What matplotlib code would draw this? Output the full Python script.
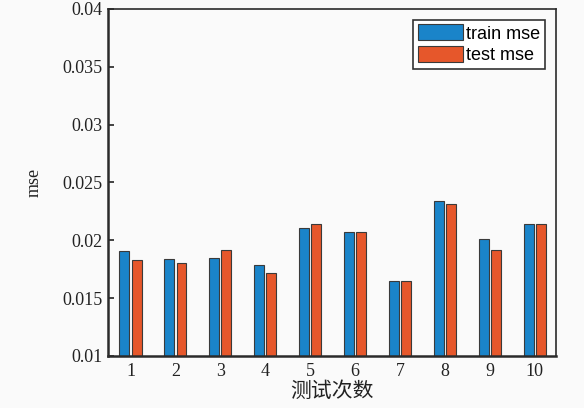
import numpy as np
import matplotlib.pyplot as plt
from matplotlib.ticker import FuncFormatter

# values
runs = [1, 2, 3, 4, 5, 6, 7, 8, 9, 10]
train_mse = [0.0191, 0.0184, 0.0185, 0.0179, 0.0211, 0.0207, 0.0165, 0.0234, 0.0201, 0.0214]
test_mse = [0.0183, 0.0180, 0.0192, 0.0172, 0.0214, 0.0207, 0.0165, 0.0231, 0.0192, 0.0214]
y_ticks = [0.01, 0.015, 0.02, 0.025, 0.03, 0.035, 0.04]

plt.rcParams['font.family'] = ['Liberation Serif', 'Noto Sans CJK SC']

fig = plt.figure(figsize=(5.84, 4.08), dpi=100, facecolor='#fafafa')
ax = fig.add_axes([0.185, 0.1275, 0.767, 0.8505])
ax.set_facecolor('#fafafa')

x = np.array(runs)
w = 0.22
ax.bar(x - 0.135, train_mse, width=w, color='#1a84c9', edgecolor='#3a3a3a',
       linewidth=0.8, label='train mse')
ax.bar(x + 0.135, test_mse, width=w, color='#e6572b', edgecolor='#3a3a3a',
       linewidth=0.8, label='test mse')

ax.set_xlim(0.5, 10.47)
ax.set_ylim(0.01, 0.04)
ax.set_xticks(runs)
ax.set_yticks(y_ticks)
ax.yaxis.set_major_formatter(FuncFormatter(lambda v, p: f'{v:g}'))
ax.tick_params(axis='both', direction='in', labelsize=13, colors='#222222', length=4, width=1.2)
ax.tick_params(axis='x', length=0, pad=5)
ax.tick_params(axis='y', pad=4)

for s in ax.spines.values():
    s.set_color('#2b2b2b')
    s.set_linewidth(1.2)
ax.spines['left'].set_linewidth(1.8)
ax.spines['bottom'].set_linewidth(1.8)

ax.set_ylabel('mse', fontsize=13, color='#222222', labelpad=14)
ax.set_xlabel('测试次数', fontsize=15, color='#222222', labelpad=0,
              family=['Noto Sans CJK SC', 'DejaVu Sans'])

leg = ax.legend(loc='upper right', prop={'family': 'Liberation Sans', 'size': 13},
                handlelength=2.5, handleheight=1.0, handletextpad=0.2,
                borderpad=0.25, labelspacing=0.2, fancybox=False,
                borderaxespad=0.6, framealpha=1)
leg.get_frame().set_edgecolor('#333333')
leg.get_frame().set_linewidth(1.2)
leg.get_frame().set_facecolor('white')

fig.savefig('out.png', dpi=100, facecolor=fig.get_facecolor())
